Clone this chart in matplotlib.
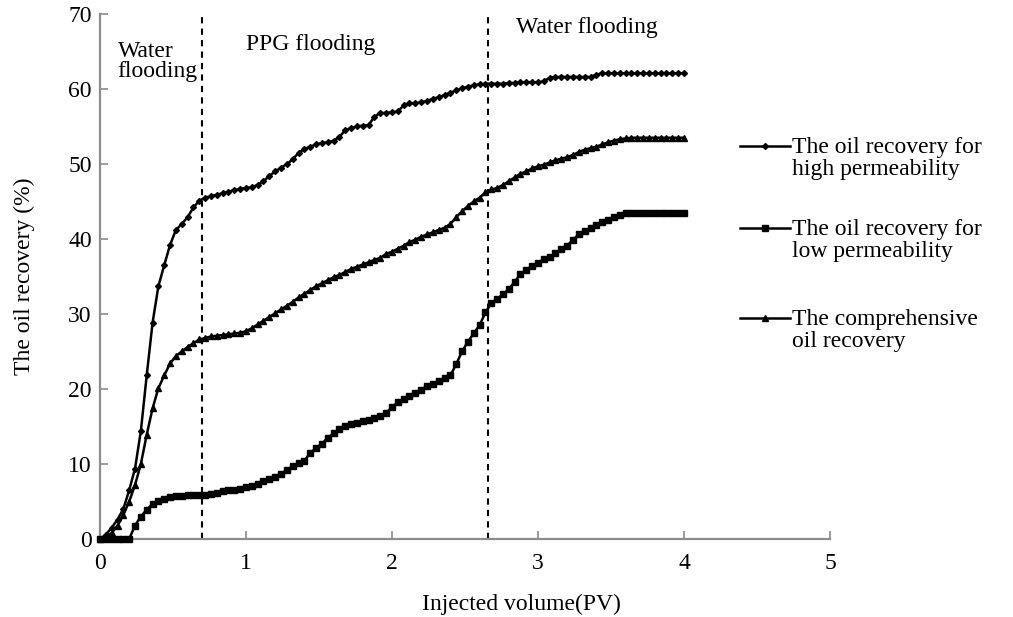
import numpy as np
import matplotlib
matplotlib.use("Agg")
import matplotlib.pyplot as plt
from matplotlib.lines import Line2D

plt.rcParams["font.family"] = ["Liberation Serif", "DejaVu Serif"]

# injected volume grid (PV), one sample every 0.04 PV
injected_pv = np.round(np.arange(101) * 0.04, 2)

recovery_high = [
    0, 0.6, 1.5, 2.6, 4.0, 6.5, 9.4, 14.4, 21.8, 28.8,
    33.7, 36.5, 39.2, 41.2, 42.0, 42.9, 44.2, 45.1, 45.5, 45.7,
    45.9, 46.1, 46.3, 46.5, 46.7, 46.8, 46.9, 47.2, 47.7, 48.4,
    49.0, 49.5, 50.0, 50.6, 51.5, 52.0, 52.3, 52.6, 52.8, 52.9,
    53.1, 53.6, 54.5, 54.8, 55.0, 55.1, 55.2, 56.3, 56.8, 56.8,
    56.9, 57.0, 57.8, 58.1, 58.1, 58.2, 58.4, 58.7, 58.9, 59.2,
    59.5, 59.8, 60.1, 60.3, 60.5, 60.6, 60.7, 60.7, 60.7, 60.7,
    60.8, 60.8, 60.9, 60.9, 60.9, 60.9, 61.0, 61.5, 61.6, 61.6,
    61.6, 61.6, 61.6, 61.6, 61.6, 61.9, 62.1, 62.1, 62.1, 62.1,
    62.1, 62.1, 62.1, 62.1, 62.1, 62.1, 62.1, 62.1, 62.1, 62.1,
    62.1,
]

recovery_low = [
    0, 0, 0, 0, 0, 0, 1.8, 3.0, 3.9, 4.7,
    5.1, 5.4, 5.6, 5.7, 5.8, 5.9, 5.9, 5.9, 5.9, 6.0,
    6.2, 6.4, 6.5, 6.6, 6.7, 6.9, 7.1, 7.4, 7.7, 8.0,
    8.3, 8.7, 9.2, 9.7, 10.1, 10.4, 11.5, 12.1, 12.7, 13.5,
    14.1, 14.6, 15.0, 15.3, 15.5, 15.7, 15.9, 16.1, 16.4, 16.8,
    17.6, 18.2, 18.6, 19.0, 19.5, 19.9, 20.4, 20.7, 21.1, 21.4,
    21.8, 23.3, 25.0, 26.3, 27.4, 28.5, 30.2, 31.4, 32.0, 32.6,
    33.3, 34.3, 35.3, 35.9, 36.4, 36.8, 37.3, 37.6, 38.1, 38.6,
    39.1, 39.9, 40.6, 41.1, 41.4, 41.8, 42.2, 42.5, 42.9, 43.2,
    43.4, 43.5, 43.5, 43.5, 43.5, 43.5, 43.5, 43.5, 43.5, 43.5,
    43.5,
]

recovery_total = [
    0, 0.3, 0.8, 1.8, 3.2, 5.0, 7.2, 10.0, 13.9, 17.4,
    20.1, 21.8, 23.4, 24.4, 25.0, 25.6, 26.1, 26.6, 26.8, 27.0,
    27.1, 27.2, 27.3, 27.4, 27.5, 27.7, 28.1, 28.6, 29.1, 29.6,
    30.1, 30.6, 31.1, 31.6, 32.2, 32.7, 33.2, 33.7, 34.1, 34.5,
    34.9, 35.2, 35.6, 36.0, 36.3, 36.6, 36.9, 37.2, 37.5, 38.0,
    38.3, 38.7, 39.1, 39.6, 39.9, 40.3, 40.6, 40.9, 41.2, 41.5,
    42.0, 42.9, 43.7, 44.4, 45.0, 45.5, 46.2, 46.6, 46.8, 47.2,
    47.7, 48.2, 48.7, 49.0, 49.4, 49.7, 49.9, 50.2, 50.5, 50.7,
    50.9, 51.2, 51.6, 51.9, 52.1, 52.3, 52.6, 52.9, 53.1, 53.3,
    53.4, 53.5, 53.5, 53.5, 53.5, 53.5, 53.5, 53.5, 53.5, 53.5,
    53.5,
]

stage_bounds = [0.7, 2.66]
stage_labels = ["Water\nflooding", "PPG flooding", "Water flooding"]
stage_label_pos = [(0.12, 63.7), (1.0, 65.9), (2.85, 68.2)]

series = [
    (recovery_high, "D", 3.0, "The oil recovery for\nhigh permeability"),
    (recovery_low, "s", 5.0, "The oil recovery for\nlow permeability"),
    (recovery_total, "^", 4.5, "The comprehensive\noil recovery"),
]

fs = 17

fig = plt.figure(figsize=(10.13, 6.17), dpi=100)
ax = fig.add_axes([0.0987, 0.1264, 0.7206, 0.851])

for values, marker, msize, _ in series:
    ax.plot(injected_pv, values, color="black", lw=1.8, marker=marker,
            markersize=msize, clip_on=False, zorder=3)

for xb in stage_bounds:
    ax.axvline(xb, color="black", lw=1.5, ls=(0, (3, 2.5)), zorder=2)

for label, (tx, ty) in zip(stage_labels, stage_label_pos):
    ax.text(tx, ty, label, fontsize=fs, ha="left", va="center",
            linespacing=0.95)

ax.set_xlim(0, 5)
ax.set_ylim(0, 70)
ax.set_xticks(range(0, 6))
ax.set_yticks(range(0, 71, 10))
for side in ["top", "right"]:
    ax.spines[side].set_visible(False)
for side in ["left", "bottom"]:
    ax.spines[side].set_color("#8c8c8c")
    ax.spines[side].set_linewidth(1.6)
ax.tick_params(direction="in", length=6, width=1.2, color="#8c8c8c",
               labelsize=fs)
ax.tick_params(axis="x", pad=10)
ax.tick_params(axis="y", pad=6)

ax.set_xlabel("Injected volume(PV)", fontsize=fs, labelpad=14)
ax.xaxis.set_label_coords(0.578, -0.105)
ax.set_ylabel("The oil recovery (%)", fontsize=fs, labelpad=24)

# legend drawn by hand so the handle sits on the first text line
fw, fh = 1013.0, 617.0
legend_rows = [146, 228, 318]
for (values, marker, msize, label), row in zip(series, legend_rows):
    yy = 1 - row / fh
    fig.add_artist(Line2D([740 / fw, 765 / fw, 790 / fw], [yy, yy, yy],
                          color="black", lw=1.8, marker=marker,
                          markersize=msize, markevery=[1]))
    fig.text(792 / fw, 1 - (row - 9) / fh, label, fontsize=fs, ha="left",
             va="top", linespacing=1.05, transform=fig.transFigure)

fig.savefig("out.png", dpi=100)
